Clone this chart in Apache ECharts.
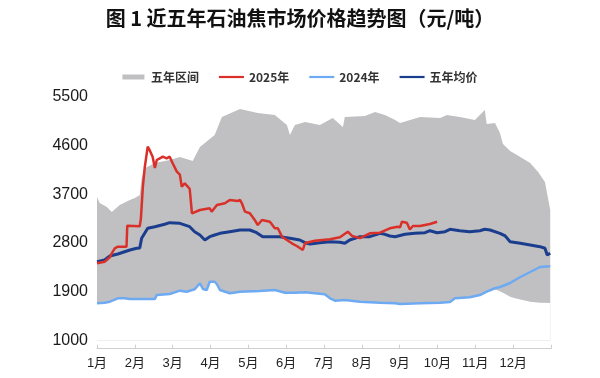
<!DOCTYPE html>
<html>
<head>
<meta charset="utf-8">
<script src="https://cdn.jsdelivr.net/npm/echarts@6/dist/echarts.min.js"></script>
<style>
html,body{margin:0;padding:0;background:#fff;}
#c{width:600px;height:378px;}
</style>
</head>
<body>
<div id="c"></div>
<script>
// ---- data (x in months from Jan 1; 0 = 1月, 12 = year end) ----
const titleText = '图 1 近五年石油焦市场价格趋势图（元/吨）';
const monthLabels = ['1月','2月','3月','4月','5月','6月','7月','8月','9月','10月','11月','12月'];
const yTicks = [1000, 1900, 2800, 3700, 4600, 5500];

const bandUpperX = [0.00,0.07,0.26,0.39,0.60,0.87,1.00,1.13,1.18,1.26,1.53,1.92,2.19,2.45,2.53,2.72,3.11,3.30,3.78,4.25,4.70,5.02,5.10,5.23,5.50,5.89,6.23,6.50,6.55,7.08,7.35,7.61,7.88,8.01,8.54,9.07,9.25,9.59,9.99,10.12,10.25,10.30,10.52,10.65,10.73,10.92,11.19,11.45,11.66,11.84,11.92,11.98];
const bandUpper  = [3648,3538,3464,3372,3501,3593,3630,3685,4000,4180,4273,4330,4385,4330,4311,4570,4791,5123,5270,5197,5160,4976,4791,4976,5031,4976,5105,4939,5123,5142,5215,5160,5068,5012,5123,5105,5160,5123,5068,5160,5252,4994,5012,4828,4625,4496,4385,4274,4108,3924,3630,3409];

const bandLowerX = [0.00,0.20,0.34,0.55,0.73,0.87,1.13,1.53,1.58,1.92,2.19,2.37,2.58,2.72,2.80,2.90,2.98,3.11,3.17,3.25,3.51,3.78,4.30,4.70,4.97,5.23,5.50,5.76,6.02,6.16,6.29,6.55,6.95,7.48,7.88,8.01,8.54,9.07,9.33,9.46,9.85,10.12,10.30,10.52,10.65,10.79,10.92,11.05,11.19,11.45,11.71,11.98];
const bandLower  = [1689,1700,1719,1781,1781,1769,1769,1769,1842,1861,1922,1903,1947,2058,1953,1934,2087,2087,2040,1934,1874,1903,1916,1934,1885,1885,1892,1874,1855,1781,1737,1750,1719,1700,1689,1676,1689,1700,1713,1781,1800,1842,1903,1950,1910,1860,1810,1780,1760,1720,1700,1695];

const x2025 = [0.00,0.20,0.34,0.39,0.47,0.55,0.78,0.80,1.13,1.16,1.21,1.26,1.34,1.39,1.47,1.53,1.58,1.66,1.74,1.84,1.92,2.00,2.11,2.19,2.24,2.32,2.45,2.51,2.72,2.98,3.03,3.17,3.38,3.51,3.72,3.78,3.83,3.91,4.04,4.17,4.25,4.36,4.57,4.70,4.78,4.89,5.02,5.15,5.28,5.44,5.50,5.76,6.16,6.42,6.63,6.74,6.95,7.21,7.48,7.74,7.95,8.01,8.06,8.19,8.27,8.35,8.54,8.80,8.99];
const v2025 = [2426,2456,2537,2611,2703,2732,2732,3120,3110,3250,3814,4183,4576,4515,4391,4183,4330,4361,4391,4361,4391,4269,4115,4060,3838,3900,3800,3348,3409,3440,3378,3501,3532,3593,3575,3593,3532,3378,3348,3224,3132,3224,3193,3071,3071,2917,2856,2795,2745,2672,2800,2843,2869,2906,3009,2931,2890,2979,2990,3071,3101,3089,3193,3175,3050,3114,3114,3150,3193];

const x2024 = [0.00,0.20,0.34,0.55,0.73,0.87,1.13,1.53,1.58,1.92,2.19,2.37,2.58,2.72,2.80,2.90,2.98,3.11,3.17,3.25,3.51,3.78,4.30,4.70,4.97,5.23,5.50,5.76,6.02,6.16,6.29,6.55,6.95,7.48,7.88,8.01,8.54,9.07,9.33,9.46,9.85,10.12,10.30,10.52,10.65,10.79,10.92,11.05,11.19,11.45,11.71,11.98];
const v2024 = [1689,1700,1719,1781,1781,1769,1769,1769,1842,1861,1922,1903,1947,2058,1953,1934,2087,2087,2040,1934,1874,1903,1916,1934,1885,1885,1892,1874,1855,1781,1737,1750,1719,1700,1689,1676,1689,1700,1713,1781,1800,1842,1903,1966,1990,2027,2063,2119,2174,2266,2358,2370];

const xAvg = [0.00,0.20,0.34,0.55,0.73,0.87,1.05,1.13,1.18,1.34,1.53,1.79,1.92,2.19,2.45,2.58,2.72,2.85,2.98,3.11,3.25,3.51,3.78,4.04,4.22,4.38,4.57,4.83,5.10,5.36,5.50,5.63,5.89,6.16,6.42,6.55,6.68,6.95,7.21,7.48,7.61,7.74,7.88,8.14,8.40,8.67,8.80,8.99,9.20,9.33,9.59,9.85,10.12,10.25,10.39,10.65,10.79,10.92,11.19,11.45,11.71,11.84,11.90,11.98];
const vAvg = [2456,2487,2561,2598,2640,2672,2703,2710,2887,3071,3101,3145,3175,3163,3101,3009,2948,2856,2917,2948,2979,3009,3040,3040,2990,2917,2917,2917,2887,2856,2806,2782,2806,2825,2813,2795,2856,2917,2917,2979,2960,2930,2917,2961,2979,2990,3027,2990,3009,3053,3027,3009,3027,3053,3040,2979,2930,2825,2795,2764,2733,2703,2580,2611];

const zip = (xs, vs) => xs.map((x, i) => [x, vs[i]]);

const chart = echarts.init(document.getElementById('c'), null, {renderer: 'canvas'});
const latin = "'Liberation Sans', Arial, 'Noto Sans CJK SC', sans-serif";
chart.setOption({
  animation: false,
  backgroundColor: '#fff',
  title: {
    text: titleText,
    left: 295, top: 3, textAlign: 'center',
    textStyle: {fontSize: 20, fontWeight: 'bold', color: '#111', fontFamily: "'Noto Sans CJK SC', sans-serif"}
  },
  legend: {
    left: 'center', top: 66,
    itemWidth: 25, itemHeight: 5, itemGap: 20,
    textStyle: {fontSize: 12, fontWeight: 'bold', color: '#333', fontFamily: "'Noto Sans CJK SC', sans-serif"},
    data: [
      {name: '五年区间', icon: 'path://M0,0L22,0L22,5L0,5Z', itemStyle: {color: '#c0c0c2'}},
      {name: '2025年', icon: 'path://M0,0L25,0L25,2.2L0,2.2Z', itemStyle: {color: '#d9302a'}},
      {name: '2024年', icon: 'path://M0,0L25,0L25,2.2L0,2.2Z', itemStyle: {color: '#6eaaf2'}},
      {name: '五年均价', icon: 'path://M0,0L25,0L25,2.2L0,2.2Z', itemStyle: {color: '#1b3d8e'}}
    ]
  },
  grid: {left: 97, right: 49, top: 96.5, bottom: 37.3},
  xAxis: {
    type: 'value', min: 0, max: 12, interval: 1, offset: 8,
    axisLine: {show: true, lineStyle: {color: '#cfcfcf', width: 1}},
    axisTick: {show: true, inside: true, length: 4, lineStyle: {color: '#cfcfcf'}},
    splitLine: {show: false},
    axisLabel: {
      margin: 8, fontSize: 13, color: '#222', fontFamily: latin,
      formatter: v => (v < 12 ? monthLabels[Math.round(v)] : '')
    }
  },
  yAxis: {
    type: 'value', min: yTicks[0], max: yTicks[yTicks.length - 1], interval: 900,
    axisLine: {show: false}, axisTick: {show: false}, splitLine: {show: false},
    axisLabel: {margin: 9, fontSize: 16, color: '#1a1a1a', fontFamily: latin, formatter: v => String(v)}
  },
  series: [
    {
      name: '五年区间', type: 'line', data: zip(bandUpperX, bandUpper), showSymbol: false, symbol: 'none',
      lineStyle: {width: 0}, areaStyle: {color: '#c0c0c2', opacity: 1, origin: 'start'}, z: 1, silent: true,
      itemStyle: {color: '#c0c0c2'}
    },
    {
      name: 'bandLower', type: 'line', data: zip(bandLowerX, bandLower), showSymbol: false, symbol: 'none',
      lineStyle: {width: 0}, areaStyle: {color: '#ffffff', opacity: 1, origin: 'start'}, z: 2, silent: true
    },
    {
      name: '2024年', type: 'line', data: zip(x2024, v2024), showSymbol: false, symbol: 'none',
      lineStyle: {width: 2.5, color: '#6eaaf2'}, itemStyle: {color: '#6eaaf2'}, z: 3
    },
    {
      name: '五年均价', type: 'line', data: zip(xAvg, vAvg), showSymbol: false, symbol: 'none',
      lineStyle: {width: 3, color: '#1b3d8e'}, itemStyle: {color: '#1b3d8e'}, z: 4
    },
    {
      name: '2025年', type: 'line', data: zip(x2025, v2025), showSymbol: false, symbol: 'none',
      lineStyle: {width: 2.5, color: '#d9302a'}, itemStyle: {color: '#d9302a'}, z: 5
    }
  ]
});
</script>
</body>
</html>
